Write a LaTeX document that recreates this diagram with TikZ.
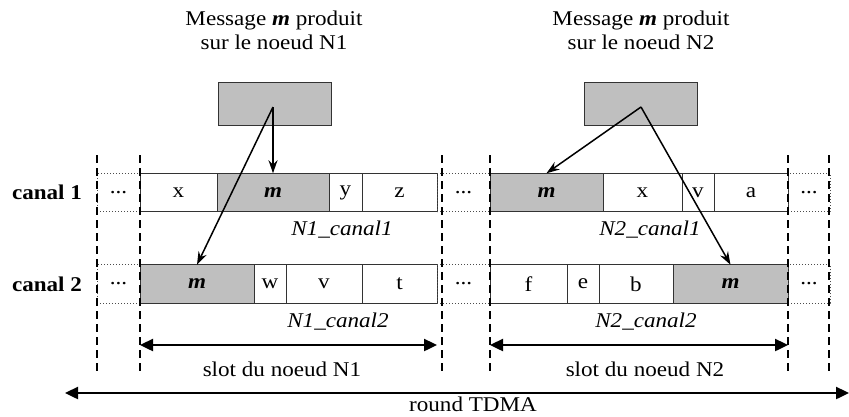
\documentclass[tikz,border=0pt]{standalone}
\usepackage{fontspec}
\setmainfont{Liberation Serif}[FakeStretch=1.1]
\usetikzlibrary{arrows.meta, positioning}

\begin{document}
\begin{tikzpicture}[
    x=1pt, y=-1pt,
    font=\fontsize{21}{24}\selectfont,
    node distance=0pt,
    cell/.style={draw=black!80, line width=1pt, minimum height=38.5pt,
                 inner sep=0pt, outer sep=0pt},
    mcell/.style={cell, fill=black!25},
    dcell/.style={draw=black!70, dotted, line width=1pt, minimum height=38.5pt,
                  inner sep=0pt, outer sep=0pt},
    srcbox/.style={draw=black!80, line width=1pt, fill=black!25,
                   minimum width=113pt, minimum height=43pt},
    bound/.style={dash pattern=on 8pt off 5pt, line width=2.8pt},
    feed/.style={-{Stealth[length=13pt, width=9pt]}, line width=1.5pt},
    span/.style={{Triangle[length=13pt, width=12pt]}-{Triangle[length=13pt, width=12pt]},
                 line width=2.4pt}
]
\useasboundingbox (0,0) rectangle (849,416);

% Messages
\node[srcbox] (src1) at (274.5,103.5) {};
\node[srcbox] (src2) at (640.5,103.5) {};
\node[align=center] (lab1) at (274,30) {Message \textbf{\textit{m}} produit\\sur le noeud N1};
\node[align=center] (lab2) at (641,30) {Message \textbf{\textit{m}} produit\\sur le noeud N2};
\coordinate (o1) at (273,107);
\coordinate (o2) at (641,107);

% Canal 1
\node (c1) at (47,192.5) {\textbf{canal 1}};
\node[dcell, minimum width=43, anchor=west] (d11) at (97,192.5) {...};
\node[cell, minimum width=77, right=of d11] (x11) {x};
\node[mcell, minimum width=112, right=of x11] (m11) {\textbf{\textit{m}}};
\node[cell, minimum width=33, right=of m11] (y11) {y};
\node[cell, minimum width=75, right=of y11] (z11) {z};
\node[dcell, minimum width=53, right=of z11] (d12) {...};
\node[mcell, minimum width=113, right=of d12] (m12) {\textbf{\textit{m}}};
\node[cell, minimum width=79, right=of m12] (x12) {x};
\node[cell, minimum width=32, right=of x12] (v12) {v};
\node[cell, minimum width=74, right=of v12] (a12) {a};
\node[dcell, minimum width=42, right=of a12] (d13) {...};

% Canal 2
\node (c2) at (47,284) {\textbf{canal 2}};
\node[dcell, minimum width=43, anchor=west] (d21) at (97,284) {...};
\node[mcell, minimum width=114, right=of d21] (m21) {\textbf{\textit{m}}};
\node[cell, minimum width=32, right=of m21] (w21) {w};
\node[cell, minimum width=76, right=of w21] (v21) {v};
\node[cell, minimum width=75, right=of v21] (t21) {t};
\node[dcell, minimum width=53, right=of t21] (d22) {...};
\node[cell, minimum width=77, right=of d22] (f22) {f};
\node[cell, minimum width=32, right=of f22] (e22) {e};
\node[cell, minimum width=74, right=of e22] (b22) {b};
\node[mcell, minimum width=115, right=of b22] (m22) {\textbf{\textit{m}}};
\node[dcell, minimum width=42, right=of m22] (d23) {...};

% Slot boundaries
\foreach \x in {97,140,442,490,788,829}
    \draw[bound] (\x,155) -- (\x,374);

% Labels under the rows
\node (n11) at (342,230) {\textit{N1\_canal1}};
\node (n21) at (650,230) {\textit{N2\_canal1}};
\node (n12) at (338,322) {\textit{N1\_canal2}};
\node (n22) at (646,322) {\textit{N2\_canal2}};

% Message copies
\draw[feed] (o1) -- (m11.north);
\draw[feed] (o1) -- (m21.north);
\draw[feed] (o2) -- (m12.north);
\draw[feed] (o2) -- (m22.north);

% Slots and round
\coordinate (sa1) at (140,345);
\coordinate (sb1) at (437,345);
\coordinate (sa2) at (490,345);
\coordinate (sb2) at (788,345);
\coordinate (ra) at (65,393);
\coordinate (rb) at (849,393);
\draw[span] (sa1) -- (sb1);
\draw[span] (sa2) -- (sb2);
\draw[span] (ra) -- (rb);
\node (sl1) at (282,369) {slot du noeud N1};
\node (sl2) at (645,369) {slot du noeud N2};
\node (rt) at (473,404) {round TDMA};

\end{tikzpicture}
\end{document}
